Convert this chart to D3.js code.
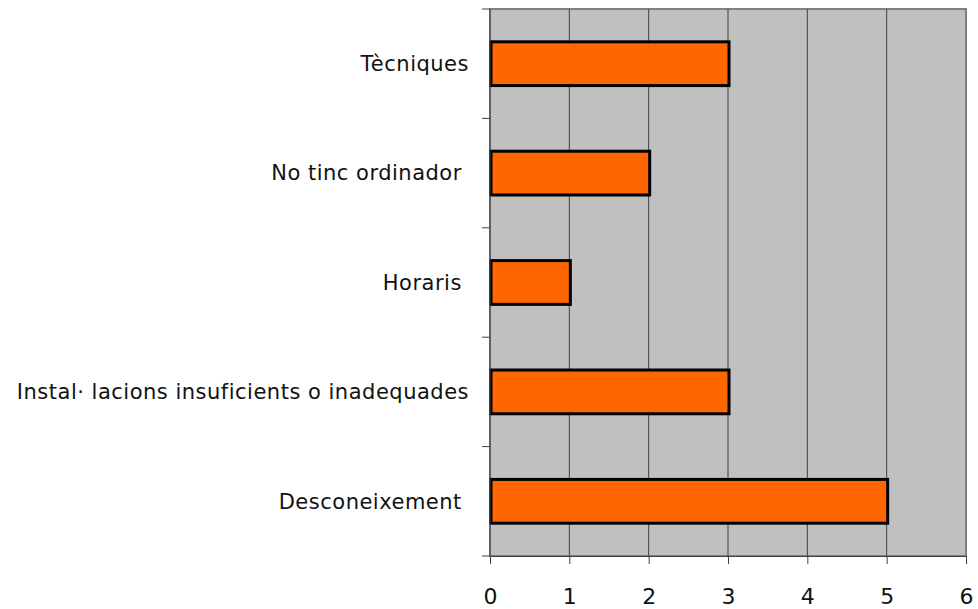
<!DOCTYPE html>
<html>
<head>
<meta charset="utf-8">
<script src="https://cdn.jsdelivr.net/npm/d3@7"></script>
<style>
  body { margin: 0; background: #fff; }
  text { font-family: "DejaVu Sans", Verdana, sans-serif; fill: #111; white-space: pre; }
</style>
</head>
<body>
<svg id="chart" width="978" height="609"></svg>
<script>
// data
const categories = ["Tècniques", "No tinc ordinador ", "Horaris ", "Instal· lacions insuficients o inadequades", "Desconeixement "]
const values = [3, 2, 1, 3, 5]
const xTicks = [0, 1, 2, 3, 4, 5, 6]

const svg = d3.select("#chart")
const margin = {top: 9, right: 12, bottom: 53, left: 490}
const w = 978 - margin.left - margin.right
const h = 609 - margin.top - margin.bottom

const g = svg.append("g").attr("transform", "translate(" + margin.left + "," + margin.top + ")")

const x = d3.scaleLinear().domain([0, 6]).range([0, w])
const y = d3.scaleBand().domain(categories).range([0, h]).paddingInner(0.6).paddingOuter(0.3)

// plot background
g.append("rect").attr("x", 0).attr("y", 0).attr("width", w).attr("height", h)
    .attr("fill", "#c0c0c0").attr("stroke", "#808080").attr("stroke-width", 2)

// gridlines
g.selectAll(".grid").data(xTicks.slice(1, -1)).join("line")
    .attr("x1", d => x(d)).attr("x2", d => x(d))
    .attr("y1", 0).attr("y2", h)
    .attr("stroke", "#404040").attr("stroke-width", 1)

// bars
g.selectAll(".bar").data(values).join("rect")
    .attr("x", x(0) + 1)
    .attr("y", (d, i) => y(categories[i]))
    .attr("width", d => x(d) - x(0))
    .attr("height", y.bandwidth())
    .attr("fill", "#ff6600")
    .attr("stroke", "#000").attr("stroke-width", 3)

// x axis
const xAxis = g.append("g").attr("transform", "translate(0," + h + ")")
    .call(d3.axisBottom(x).tickValues(xTicks).tickSize(8).tickPadding(24).tickFormat(d3.format("d")))
xAxis.select(".domain").attr("stroke", "#404040")
xAxis.selectAll(".tick line").attr("stroke", "#404040")
xAxis.selectAll("text").style("font-size", "22px").style("font-family", "'DejaVu Sans', Verdana, sans-serif").attr("fill", "#111")

// y axis: ticks at band boundaries
const bounds = d3.range(categories.length + 1).map(i => i * h / categories.length)
g.append("line").attr("x1", 0).attr("x2", 0).attr("y1", 0).attr("y2", h).attr("stroke", "#404040")
g.selectAll(".ytick").data(bounds).join("line")
    .attr("x1", -8).attr("x2", 0).attr("y1", d => d).attr("y2", d => d)
    .attr("stroke", "#404040")

g.selectAll(".ylab").data(categories).join("text")
    .attr("x", -21)
    .attr("y", d => y(d) + y.bandwidth() / 2)
    .attr("dy", "0.35em")
    .attr("text-anchor", "end")
    .style("font-size", "21px")
    .style("letter-spacing", "0.5px")
    .text(d => d)
</script>
</body>
</html>
